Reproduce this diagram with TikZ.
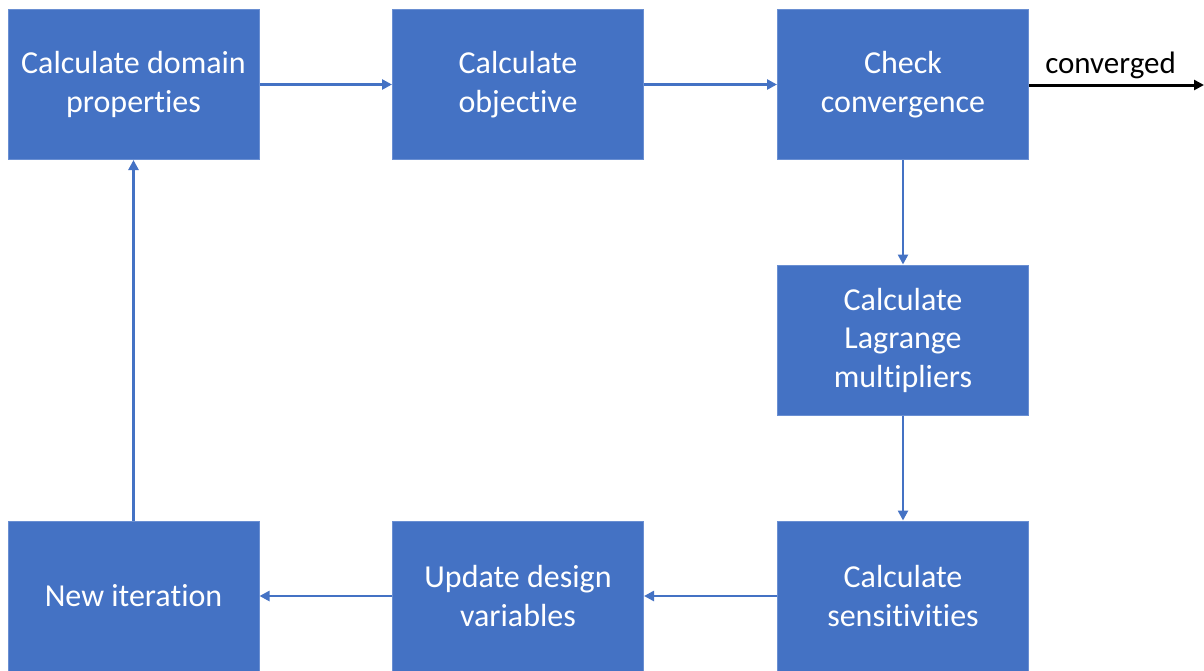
\documentclass[tikz,border=0pt]{standalone}
\usepackage{fontspec}
\setmainfont{Carlito}[Ligatures=NoCommon]
\usetikzlibrary{arrows.meta}
\definecolor{boxblue}{HTML}{4472C4}
\definecolor{edgeblue}{HTML}{6A8FD2}
\begin{document}
\begin{tikzpicture}[x=1pt,y=-1pt,
  stepbox/.style={draw=edgeblue,line width=1pt,fill=boxblue,text=white,minimum width=251pt,minimum height=150pt,
    align=center,inner sep=0pt,font=\fontsize{32}{38.5}\selectfont},
  flow/.style={draw=boxblue,line width=2.8pt,-{Triangle[length=10pt,width=10pt]}},
  outflow/.style={draw=black,line width=3pt,-{Triangle[length=10pt,width=10pt]}}]
\useasboundingbox (0,0) rectangle (1204,670);
\node[stepbox] (dom) at (133.5,84.5) {Calculate domain\\properties};
\node[stepbox] (obj) at (518,84.5) {Calculate\\objective};
\node[stepbox] (conv) at (903,84.5) {Check\\convergence};
\node[stepbox] (lag) at (903,340) {Calculate\\Lagrange\\multipliers};
\node[stepbox] (sens) at (903,596) {Calculate\\sensitivities};
\node[stepbox] (upd) at (518,596) {Update design\\variables};
\node[stepbox] (iter) at (133.5,596) {New iteration};
\coordinate (outend) at (1204,85);
\draw[flow] (dom) -- (obj);
\draw[flow] (obj) -- (conv);
\draw[flow] (conv) -- (lag);
\draw[flow] (lag) -- (sens);
\draw[flow] (sens) -- (upd);
\draw[flow] (upd) -- (iter);
\draw[flow] (iter) -- (dom);
\draw[outflow] (conv.east |- outend) -- node[above=1pt,xshift=-6pt,font=\fontsize{31}{36}\selectfont,text=black] (lbl) {converged} (outend);
\end{tikzpicture}
\end{document}
